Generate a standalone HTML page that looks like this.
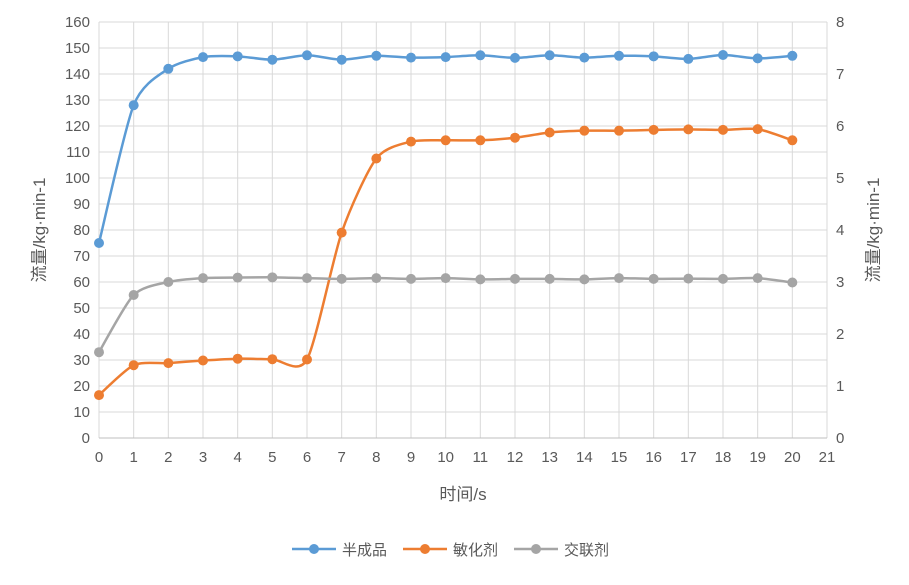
<!DOCTYPE html>
<html><head><meta charset="utf-8"><style>
body{margin:0;background:#fff;}
svg text{font-family:"Liberation Sans","Noto Sans CJK SC",sans-serif;fill:#595959;font-size:15px;}
</style></head><body>
<svg id="s" width="909" height="580" xmlns="http://www.w3.org/2000/svg"></svg>
<script>
const s=document.getElementById('s');
const X0=99,X1=827,Y0=438,Y1=22;
const px=x=>X0+(X1-X0)*x/21, py=v=>Y0-(Y0-Y1)*v/160;
let h='';
for(let v=0;v<=160;v+=10){h+=`<line x1="${X0}" x2="${X1}" y1="${py(v)}" y2="${py(v)}" stroke="#d9d9d9"/>`;
h+=`<text x="${X0-9}" y="${py(v)+5}" text-anchor="end">${v}</text>`;}
for(let v=0;v<=8;v++){h+=`<text x="${X1+9}" y="${py(v*20)+5}">${v}</text>`;}
for(let i=0;i<=21;i++){h+=`<line x1="${px(i)}" x2="${px(i)}" y1="${Y1}" y2="${Y0}" stroke="#d9d9d9"/>`;
h+=`<text x="${px(i)}" y="${Y0+24}" text-anchor="middle">${i}</text>`;}
h+=`<line x1="${X0}" x2="${X1}" y1="${Y0}" y2="${Y0}" stroke="#bfbfbf"/>`;
const D=[
['#5b9bd5',[75,128,142,146.5,146.8,145.5,147.2,145.5,147,146.3,146.5,147.2,146.2,147.2,146.3,147,146.8,145.8,147.3,146,147]],
['#ed7d31',[16.5,28,28.8,29.8,30.5,30.3,30.2,79,107.5,114,114.5,114.5,115.5,117.5,118.2,118.2,118.5,118.7,118.5,118.8,114.5]],
['#a5a5a5',[33,55,60,61.5,61.7,61.8,61.5,61.2,61.5,61.2,61.5,61,61.2,61.2,61,61.5,61.2,61.3,61.2,61.5,59.8]]];
for(const [c,d] of D){
 const P=d.map((v,i)=>[px(i),py(v)]);
 let p=`M${P[0]}`;
 for(let i=0;i<P.length-1;i++){
  const a=P[Math.max(i-1,0)],b=P[i],e=P[i+1],f=P[Math.min(i+2,P.length-1)],t=1/8;
  p+=` C${b[0]+(e[0]-a[0])*t},${b[1]+(e[1]-a[1])*t} ${e[0]-(f[0]-b[0])*t},${e[1]-(f[1]-b[1])*t} ${e[0]},${e[1]}`;
 }
 h+=`<path d="${p}" fill="none" stroke="${c}" stroke-width="2.5"/>`;
 for(const q of P)h+=`<circle cx="${q[0]}" cy="${q[1]}" r="5" fill="${c}"/>`;
}
h+=`<text x="463" y="500" text-anchor="middle" style="font-size:17px">时间/s</text>`;
h+=`<text transform="translate(45,230) rotate(-90)" text-anchor="middle" style="font-size:17px">流量/kg·min-1</text>`;
h+=`<text transform="translate(879,230) rotate(-90)" text-anchor="middle" style="font-size:17px">流量/kg·min-1</text>`;
const L=[['#5b9bd5','半成品',292],['#ed7d31','敏化剂',403],['#a5a5a5','交联剂',514]];
for(const [c,t,x] of L){h+=`<line x1="${x}" x2="${x+44}" y1="549" y2="549" stroke="${c}" stroke-width="2.5"/><circle cx="${x+22}" cy="549" r="5" fill="${c}"/><text x="${x+50}" y="555">${t}</text>`;}
s.innerHTML=h;
</script>
</body></html>
